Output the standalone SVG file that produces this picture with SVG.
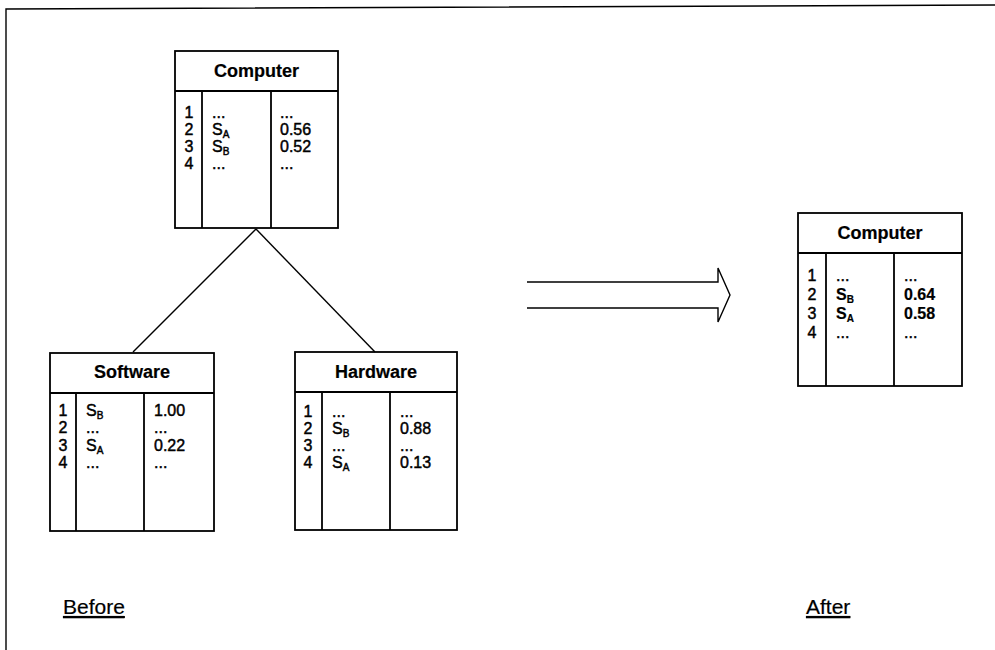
<svg xmlns="http://www.w3.org/2000/svg" width="995" height="650" viewBox="0 0 995 650">
<style>
.box{fill:none;stroke:#000;stroke-width:1.8}
.ln{fill:none;stroke:#000;stroke-width:1.4}
text{font-family:"Liberation Sans",Arial,Helvetica,sans-serif;font-size:16px;fill:#000;stroke:#000;stroke-width:0.45}
.h{font-weight:bold;font-size:18px;text-anchor:middle;stroke-width:0.2}
.n{text-anchor:middle}
.b{font-weight:bold;stroke-width:0.2}
.sub{font-size:10px}
.lbl{font-size:21px;stroke-width:0.2}
</style>
<rect width="995" height="650" fill="#fff"/>
<g id="frame">
<path class="ln" d="M6,650 V9 L995,5"/>
</g>
<g id="connectors">
<line class="ln" x1="256" y1="229" x2="133" y2="352"/>
<line class="ln" x1="256" y1="229" x2="375" y2="352"/>
<path class="ln" d="M527,282 H718 V268 L730,295 L718,322 V308 H527"/>
</g>
<g id="computer-before">
<rect class="box" x="175" y="51" width="163" height="177"/>
<line class="box" x1="175" y1="91" x2="338" y2="91"/>
<line class="box" x1="202" y1="91" x2="202" y2="228"/>
<line class="box" x1="271" y1="91" x2="271" y2="228"/>
<text class="h" x="256.5" y="77">Computer</text>
<text class="n" x="189" y="118">1</text><text x="212" y="118">...</text><text x="280" y="118">...</text>
<text class="n" x="189" y="135">2</text><text x="212" y="135">S<tspan class="sub" dy="3">A</tspan></text><text x="280" y="135">0.56</text>
<text class="n" x="189" y="152">3</text><text x="212" y="152">S<tspan class="sub" dy="3">B</tspan></text><text x="280" y="152">0.52</text>
<text class="n" x="189" y="169">4</text><text x="212" y="169">...</text><text x="280" y="169">...</text>
</g>
<g id="software">
<rect class="box" x="50" y="353" width="164" height="178"/>
<line class="box" x1="50" y1="393" x2="214" y2="393"/>
<line class="box" x1="76" y1="393" x2="76" y2="531"/>
<line class="box" x1="144" y1="393" x2="144" y2="531"/>
<text class="h" x="132" y="378">Software</text>
<text class="n" x="63" y="416">1</text><text x="86" y="416">S<tspan class="sub" dy="3">B</tspan></text><text x="154" y="416">1.00</text>
<text class="n" x="63" y="433">2</text><text x="86" y="433">...</text><text x="154" y="433">...</text>
<text class="n" x="63" y="451">3</text><text x="86" y="451">S<tspan class="sub" dy="3">A</tspan></text><text x="154" y="451">0.22</text>
<text class="n" x="63" y="468">4</text><text x="86" y="468">...</text><text x="154" y="468">...</text>
</g>
<g id="hardware">
<rect class="box" x="295" y="352" width="162" height="178"/>
<line class="box" x1="295" y1="392" x2="457" y2="392"/>
<line class="box" x1="322" y1="392" x2="322" y2="530"/>
<line class="box" x1="390" y1="392" x2="390" y2="530"/>
<text class="h" x="376" y="378">Hardware</text>
<text class="n" x="308" y="417">1</text><text x="332" y="417">...</text><text x="400" y="417">...</text>
<text class="n" x="308" y="434">2</text><text x="332" y="434">S<tspan class="sub" dy="3">B</tspan></text><text x="400" y="434">0.88</text>
<text class="n" x="308" y="451">3</text><text x="332" y="451">...</text><text x="400" y="451">...</text>
<text class="n" x="308" y="468">4</text><text x="332" y="468">S<tspan class="sub" dy="3">A</tspan></text><text x="400" y="468">0.13</text>
</g>
<g id="computer-after">
<rect class="box" x="798" y="213" width="164" height="173"/>
<line class="box" x1="798" y1="253" x2="962" y2="253"/>
<line class="box" x1="826" y1="253" x2="826" y2="386"/>
<line class="box" x1="894" y1="253" x2="894" y2="386"/>
<text class="h" x="880" y="239">Computer</text>
<text class="n" x="812" y="281">1</text><text x="836" y="281">...</text><text x="904" y="281">...</text>
<text class="n" x="812" y="300">2</text><text class="b" x="836" y="300">S<tspan class="sub" dy="3">B</tspan></text><text class="b" x="904" y="300">0.64</text>
<text class="n" x="812" y="319">3</text><text class="b" x="836" y="319">S<tspan class="sub" dy="3">A</tspan></text><text class="b" x="904" y="319">0.58</text>
<text class="n" x="812" y="338">4</text><text x="836" y="338">...</text><text x="904" y="338">...</text>
</g>
<g id="labels">
<text class="lbl" x="63" y="614" text-decoration="underline">Before</text>
<text class="lbl" x="806" y="614" text-decoration="underline">After</text>
</g>
</svg>
